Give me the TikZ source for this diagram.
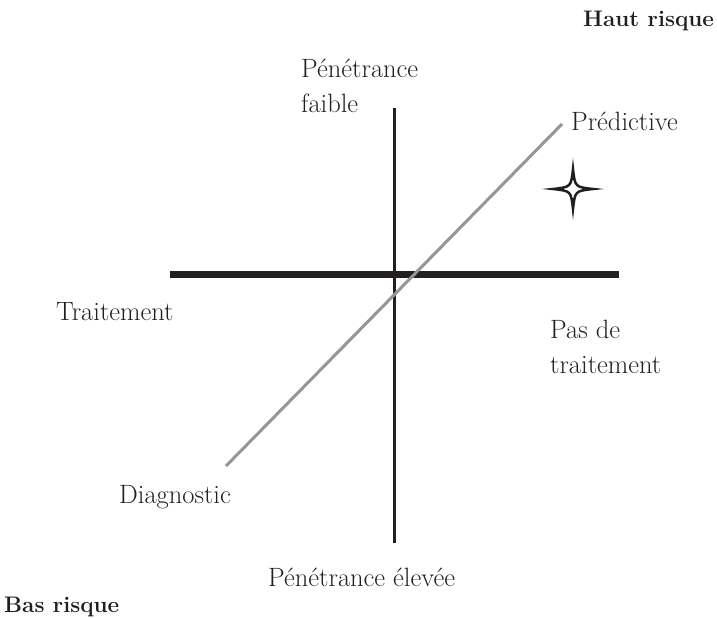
\documentclass[tikz,border=0pt]{standalone}
\usepackage{tikz}
\usetikzlibrary{positioning}
\definecolor{encre}{RGB}{35,31,32}
\definecolor{gris}{RGB}{150,150,150}
\tikzstyle{texte} = [inner sep=0pt, anchor=base west, align=left, text=encre, font=\fontsize{26.5}{35}\selectfont]
\tikzstyle{titre} = [inner sep=0pt, anchor=base west, text=encre, font=\fontsize{22.5}{26}\selectfont\bfseries]
\tikzstyle{barre} = [draw=encre, line width=7.5pt]
\tikzstyle{axe} = [draw=encre, line width=3pt]
\tikzstyle{diag} = [draw=gris, line width=3pt]

\begin{document}
\begin{tikzpicture}[x=1pt, y=-1pt]
   \useasboundingbox (0,0) rectangle (717,618);
   \node (hr) [titre] at (583,27) {Haut risque};
   \node (pf) [texte] at (301,112) {Pénétrance\\faible};
   \node (pr) [texte] at (571,130) {Prédictive};
   \node (tr) [texte] at (56,320) {Traitement};
   \node (pt) [texte] at (550,373) {Pas de\\traitement};
   \node (dg) [texte] at (119,503) {Diagnostic};
   \node (pe) [texte] at (268,586) {Pénétrance élevée};
   \node (br) [titre] at (4,612) {Bas risque};
   \coordinate (g) at (170,274.5);
   \coordinate (d) at (619,274.5);
   \coordinate (h) at (394,108);
   \coordinate (b) at (394,543);
   \coordinate (p) at (562,124);
   \coordinate (q) at (226,466);
   \draw [barre] (g) -- (d);
   \draw [axe] (h) -- (b);
   \draw [diag] (q) -- (p);
   % etoile
   \draw [draw=encre, line width=2.5pt, line join=miter, shift={(573,189)}]
      (0,-20) .. controls (2,-2) .. (20,0) .. controls (2,2) .. (0,20)
      .. controls (-2,2) .. (-20,0) .. controls (-2,-2) .. cycle;
\end{tikzpicture}
\end{document}
